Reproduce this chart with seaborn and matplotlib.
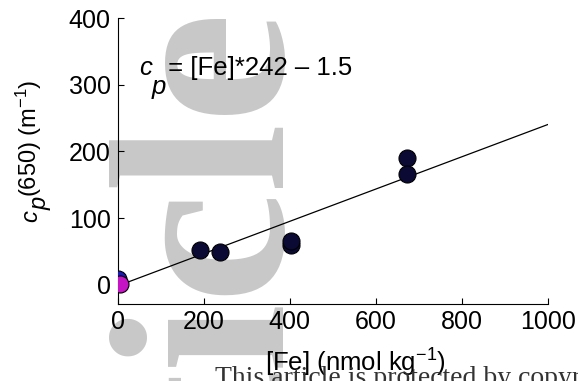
import matplotlib
matplotlib.use("Agg")
import matplotlib.pyplot as plt
from matplotlib.transforms import IdentityTransform
import seaborn as sns
import pandas as pd

# ---- data ----
fe_black = [192, 238, 403, 403, 672, 672]
cp_black = [52, 49, 60, 66, 190, 166]
fe_blue = [0]
cp_blue = [9]
fe_magenta = [5]
cp_magenta = [1]
fit_slope = 0.242   # per nmol/kg  ([Fe] in umol/kg *242)
fit_intercept = -1.5
fit_x = [0, 1000]
x_ticks = [0, 200, 400, 600, 800, 1000]
y_ticks = [0, 100, 200, 300, 400]
eq_pos = (50, 314)

W, H = 578, 381
FS_TICK = 18
FS_EQ = 18.5
FS_YLAB = 17
FS_XLAB = 18.5

sns.set_theme(style="white")
plt.rcParams['font.family'] = ['Liberation Sans', 'DejaVu Sans']
plt.rcParams['mathtext.fontset'] = 'custom'
plt.rcParams['mathtext.rm'] = 'Liberation Sans'
plt.rcParams['mathtext.it'] = 'Liberation Sans:italic'
plt.rcParams['mathtext.bf'] = 'Liberation Sans:bold'
for k in ['text.color', 'axes.labelcolor', 'xtick.color', 'ytick.color',
          'xtick.labelcolor', 'ytick.labelcolor']:
    plt.rcParams[k] = 'black'

fig = plt.figure(figsize=(W/100, H/100), dpi=100)
ax = fig.add_axes([117.5/W, 1-304/H, (548-117.5)/W, (304-18)/H])
ax.patch.set_alpha(0)
renderer = fig.canvas.get_renderer()

# watermark
fig.text(281/W, 1 - 8/H, "Article", rotation=90, rotation_mode='anchor',
         ha='right', va='baseline', fontsize=180, family='Liberation Serif',
         fontweight='bold', color='#c8c8c8', zorder=-5)
fig.text(215/W, 1 - 385/H, "This article is protected by copyright. All rights reserved.",
         ha='left', va='baseline', fontsize=20, family='Liberation Serif',
         color='#333333', zorder=5)

fit_df = pd.DataFrame({"x": fit_x,
                       "y": [fit_slope * v + fit_intercept for v in fit_x]})
sns.lineplot(data=fit_df, x="x", y="y", color='black', lw=0.9, ax=ax, zorder=2)

dark = pd.DataFrame({"x": fe_black, "y": cp_black})
sns.scatterplot(data=dark, x="x", y="y", s=150, color='#0a0a35', edgecolor='black',
                linewidth=0.8, ax=ax, zorder=3)
sns.scatterplot(x=fe_blue, y=cp_blue, s=150, color='#1a1ab4', edgecolor='black',
                linewidth=0.8, ax=ax, zorder=3)
sns.scatterplot(x=fe_magenta, y=cp_magenta, s=150, color='#c414c4', edgecolor='black',
                linewidth=0.8, ax=ax, zorder=4)

ax.set_xlim(0, 1000)
ax.set_ylim(-28.5, 400)
ax.set_xticks(x_ticks)
ax.set_yticks(y_ticks)
ax.tick_params(direction='in', length=4, width=0.8, labelsize=FS_TICK, color='black',
               labelcolor='black', bottom=True, left=True)
ax.tick_params(axis='x', pad=4.5)
ax.tick_params(axis='y', pad=5)
for s in ['top', 'right']:
    ax.spines[s].set_visible(False)
for s in ['left', 'bottom']:
    ax.spines[s].set_color('black')
    ax.spines[s].set_linewidth(0.8)

ax.set_xlabel(r"[Fe] (nmol kg$^{-1}$)", fontsize=FS_XLAB, color='black')
ax.xaxis.label.set_va('baseline')
ax.set_ylabel("")
ax.xaxis.set_label_coords((355-117.5)/430.5, -(372-304)/286)


def seq_text(pieces, x0, y0, fs, vertical=False):
    """Place text pieces one after another (display pixels)."""
    cur = y0 if vertical else x0
    for txt, shift, style in pieces:
        if vertical:
            t = fig.text(x0 + shift, cur, txt, rotation=90, rotation_mode='anchor',
                         ha='left', va='baseline', fontsize=fs, style=style,
                         color='black', transform=IdentityTransform())
            cur = t.get_window_extent(renderer).y1
        else:
            t = fig.text(cur, y0 - shift, txt, ha='left', va='baseline', fontsize=fs,
                         style=style, color='black', transform=IdentityTransform())
            cur = t.get_window_extent(renderer).x1


# equation: c_p = [Fe]*242 – 1.5 (full-size subscript as in the original)
ex, ey = ax.transData.transform(eq_pos)
seq_text([("c", 0, 'italic'), ("p", 19, 'italic'), ("\u200a= [Fe]*242 – 1.5", 0, 'normal')],
         ex, ey, FS_EQ)

# y label: c_p(650) (m^-1)
seq_text([("c", 0, 'italic'), ("p", 10, 'italic'), (r"(650) (m$^{-1}$)", 0, 'normal')],
         37, H - 222, FS_YLAB, vertical=True)

fig.savefig("out.png", dpi=100)
